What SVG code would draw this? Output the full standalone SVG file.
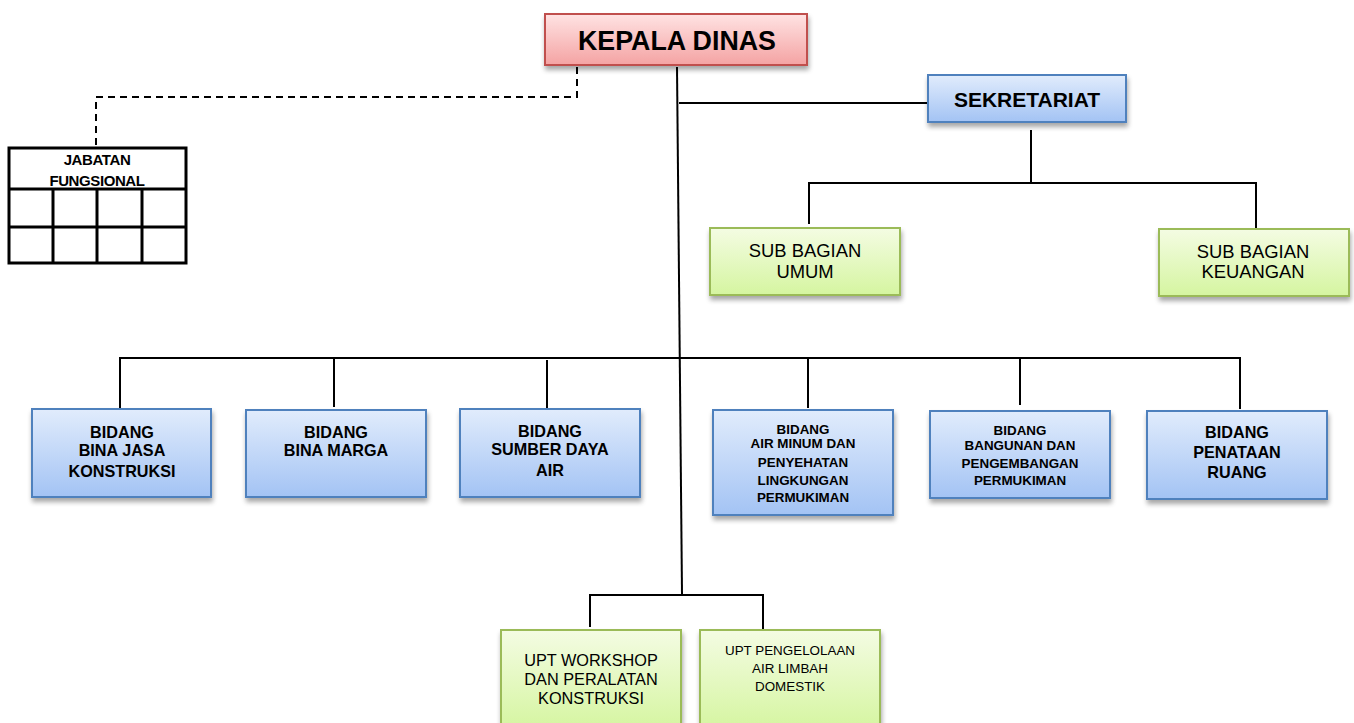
<svg xmlns="http://www.w3.org/2000/svg" width="1354" height="723" viewBox="0 0 1354 723">
<defs>
<linearGradient id="gBlue" x1="0" y1="0" x2="0" y2="1"><stop offset="0" stop-color="#e1ecfc"/><stop offset="1" stop-color="#a3c3f4"/></linearGradient>
<linearGradient id="gGreen" x1="0" y1="0" x2="0" y2="1"><stop offset="0" stop-color="#f4fce3"/><stop offset="1" stop-color="#d5f5a0"/></linearGradient>
<linearGradient id="gPink" x1="0" y1="0" x2="0" y2="1"><stop offset="0" stop-color="#ffe3e3"/><stop offset="1" stop-color="#f4a3a3"/></linearGradient>
<filter id="sh" x="-10%" y="-10%" width="125%" height="135%"><feGaussianBlur in="SourceAlpha" stdDeviation="2.5"/><feOffset dx="1" dy="4" result="b"/><feComponentTransfer><feFuncA type="linear" slope="0.35"/></feComponentTransfer><feMerge><feMergeNode/><feMergeNode in="SourceGraphic"/></feMerge></filter>
</defs>
<style>
.blue{fill:url(#gBlue);stroke:#4f81bd;stroke-width:2;filter:url(#sh)}
.green{fill:url(#gGreen);stroke:#9bbb59;stroke-width:2;filter:url(#sh)}
.pink{fill:url(#gPink);stroke:#c0504d;stroke-width:2;filter:url(#sh)}
text{font-family:"Liberation Sans",Arial,sans-serif;fill:#000;text-anchor:middle;dominant-baseline:central}
.b{font-weight:bold}
.ln{stroke:#000;stroke-width:2;fill:none}
.dash{stroke:#000;stroke-width:2;fill:none;stroke-dasharray:7,5}
.tb{stroke:#000;stroke-width:3;fill:#fff}
</style>
<rect width="1354" height="723" fill="#fff"/>
<g id="connectors">
<polyline class="dash" points="577,67 577,97 96,97 96,148"/>
<line class="ln" x1="677" y1="67" x2="682" y2="594"/>
<line class="ln" x1="679" y1="103" x2="928" y2="103"/>
<line class="ln" x1="1031" y1="130" x2="1031" y2="183"/>
<polyline class="ln" points="809,224 809,183 1256,183 1256,228"/>
<line class="ln" x1="120" y1="358" x2="1240" y2="358"/>
<line class="ln" x1="120" y1="357" x2="120" y2="408"/>
<line class="ln" x1="334" y1="358" x2="334" y2="407"/>
<line class="ln" x1="547" y1="360" x2="547" y2="408"/>
<line class="ln" x1="808" y1="358" x2="808" y2="408"/>
<line class="ln" x1="1020" y1="358" x2="1020" y2="405"/>
<line class="ln" x1="1240" y1="357" x2="1240" y2="409"/>
<polyline class="ln" points="590,627 590,595 763,595 763,629"/>
</g>
<g id="kepala-dinas">
<rect class="pink" x="545" y="14" width="262" height="51"/>
<text class="b" x="677" y="41" font-size="26.8">KEPALA DINAS</text>
</g>
<g id="jabatan-fungsional">
<rect class="tb" x="9" y="148" width="177" height="115"/>
<line class="tb" x1="9" y1="189" x2="186" y2="189"/>
<line class="tb" x1="9" y1="227" x2="186" y2="227"/>
<line class="tb" x1="53" y1="189" x2="53" y2="263"/>
<line class="tb" x1="97" y1="189" x2="97" y2="263"/>
<line class="tb" x1="142" y1="189" x2="142" y2="263"/>
<text class="b" x="97" y="159" font-size="15" letter-spacing="-0.4">JABATAN</text>
<text class="b" x="97" y="180" font-size="15" letter-spacing="-0.4">FUNGSIONAL</text>
</g>
<g id="sekretariat">
<rect class="blue" x="928" y="75" width="198" height="47"/>
<text class="b" x="1027" y="99" font-size="21">SEKRETARIAT</text>
</g>
<g id="sub-bagian-umum">
<rect class="green" x="710" y="228" width="190" height="67"/>
<text x="805" y="250" font-size="18.4">SUB BAGIAN</text>
<text x="805" y="271" font-size="18.4">UMUM</text>
</g>
<g id="sub-bagian-keuangan">
<rect class="green" x="1159" y="229" width="190" height="67"/>
<text x="1253" y="251" font-size="18.4">SUB BAGIAN</text>
<text x="1253" y="271" font-size="18.4">KEUANGAN</text>
</g>
<g id="bidang-bina-jasa-konstruksi">
<rect class="blue" x="32" y="409" width="179" height="88"/>
<text class="b" x="122" y="432" font-size="16.2">BIDANG</text>
<text class="b" x="122" y="450" font-size="16.2">BINA JASA</text>
<text class="b" x="122" y="471" font-size="16.2">KONSTRUKSI</text>
</g>
<g id="bidang-bina-marga">
<rect class="blue" x="246" y="410" width="180" height="87"/>
<text class="b" x="336" y="432" font-size="16.2">BIDANG</text>
<text class="b" x="336" y="450" font-size="16.2">BINA MARGA</text>
</g>
<g id="bidang-sumber-daya-air">
<rect class="blue" x="460" y="409" width="180" height="88"/>
<text class="b" x="550" y="431" font-size="16.2">BIDANG</text>
<text class="b" x="550" y="449" font-size="16.2">SUMBER DAYA</text>
<text class="b" x="550" y="470" font-size="16.2">AIR</text>
</g>
<g id="bidang-air-minum">
<rect class="blue" x="713" y="410" width="180" height="105"/>
<text class="b" x="803" y="429" font-size="13.4">BIDANG</text>
<text class="b" x="803" y="443" font-size="13.4">AIR MINUM DAN</text>
<text class="b" x="803" y="462" font-size="13.4">PENYEHATAN</text>
<text class="b" x="803" y="480" font-size="13.4">LINGKUNGAN</text>
<text class="b" x="803" y="497" font-size="13.4">PERMUKIMAN</text>
</g>
<g id="bidang-bangunan">
<rect class="blue" x="930" y="411" width="180" height="87"/>
<text class="b" x="1020" y="430" font-size="13.4">BIDANG</text>
<text class="b" x="1020" y="445" font-size="13.4">BANGUNAN DAN</text>
<text class="b" x="1020" y="463" font-size="13.4">PENGEMBANGAN</text>
<text class="b" x="1020" y="480" font-size="13.4">PERMUKIMAN</text>
</g>
<g id="bidang-penataan-ruang">
<rect class="blue" x="1147" y="411" width="180" height="88"/>
<text class="b" x="1237" y="432" font-size="16.2">BIDANG</text>
<text class="b" x="1237" y="452" font-size="16.2">PENATAAN</text>
<text class="b" x="1237" y="472" font-size="16.2">RUANG</text>
</g>
<g id="upt-workshop">
<rect class="green" x="501" y="630" width="180" height="100"/>
<text x="591" y="660" font-size="16.3">UPT WORKSHOP</text>
<text x="591" y="679" font-size="16.3">DAN PERALATAN</text>
<text x="591" y="698" font-size="16.3">KONSTRUKSI</text>
</g>
<g id="upt-air-limbah">
<rect class="green" x="700" y="630" width="180" height="100"/>
<text x="790" y="650" font-size="13.4">UPT PENGELOLAAN</text>
<text x="790" y="668" font-size="13.4">AIR LIMBAH</text>
<text x="790" y="686" font-size="13.4">DOMESTIK</text>
</g>
</svg>
